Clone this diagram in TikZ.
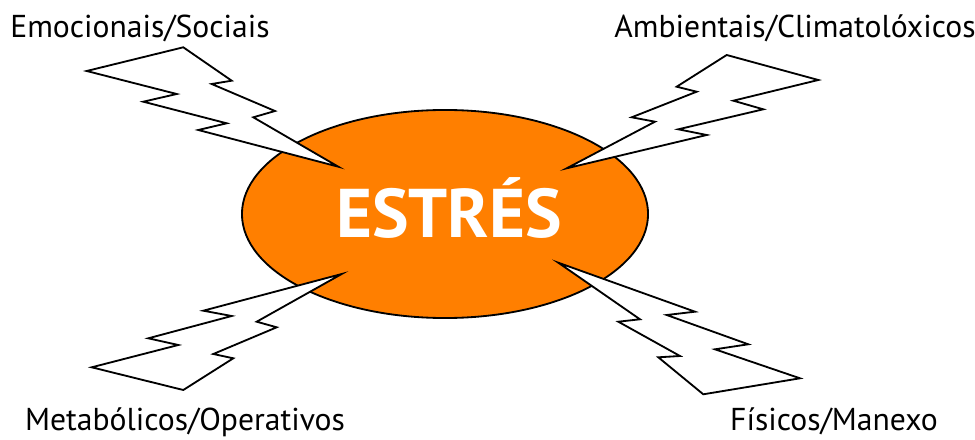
\documentclass[tikz,border=0pt]{standalone}
\usepackage{fontspec}
\setmainfont{PT Sans}
\usetikzlibrary{shapes.geometric}
\definecolor{estresorange}{RGB}{255,127,0}
\tikzset{
  bolt/.style={draw=black, fill=white, line width=1.3pt, line join=miter},
  causa/.style={anchor=base, inner sep=0pt, font=\fontsize{22.5}{26}\selectfont},
}

\begin{document}
\begin{tikzpicture}[x=0.025cm, y=-0.025cm]
			%%%%% START %%%%%
			\useasboundingbox (0, 0) rectangle (975, 440);

			\node[ellipse, draw=black, line width=1.3pt, fill=estresorange,
			      minimum width=10.15cm, minimum height=5.2cm] (estres) at (445, 214) {};
			\node[anchor=base, text=white, font=\fontsize{49}{53}\selectfont\bfseries] (titulo) at (449, 237) {ESTRÉS};

			% raio superior esquerdo
			\draw[bolt] (86.7, 71) -- (183.3, 47.3) -- (231.7, 80.7) -- (211.7, 84) -- (275, 111)
			   -- (253.3, 117.3) -- (338.3, 166.7) -- (198.3, 130) -- (226.7, 123.3)
			   -- (143.3, 101.7) -- (176.7, 94) -- cycle;

			% raio superior dereito
			\draw[bolt] (726.7, 55) -- (818.3, 80) -- (733.3, 100.7) -- (763.3, 109.3) -- (678.3, 129.3)
			   -- (706.7, 135) -- (566.7, 168.3) -- (655, 121.7) -- (631.7, 117.3)
			   -- (696.7, 91.7) -- (676.7, 86.7) -- cycle;

			% raio inferior esquerdo
			\draw[bolt] (341.7, 274) -- (203.3, 310.7) -- (231.7, 316) -- (148.3, 338.3) -- (178.3, 345)
			   -- (91.7, 367.3) -- (183.3, 390) -- (233.3, 358.3) -- (213.3, 354)
			   -- (276.7, 327.3) -- (256.7, 321.7) -- cycle;

			% raio inferior dereito
			\draw[bolt] (558.3, 262.7) -- (695, 311.7) -- (666.7, 315) -- (748.3, 344.3) -- (715, 349.3)
			   -- (800, 378.3) -- (703.3, 394.3) -- (658.3, 357.3) -- (680, 356)
			   -- (618.3, 321.7) -- (640, 319.3) -- cycle;

			\node[causa] (emocionais) at (140, 38) {Emocionais/Sociais};
			\node[causa] (ambientais) at (795, 38) {Ambientais/Climatolóxicos};
			\node[causa] (metabolicos) at (185, 430) {Metabólicos/Operativos};
			\node[causa] (fisicos) at (834, 430) {Físicos/Manexo};
			%%%%% END %%%%%
\end{tikzpicture}
\end{document}
